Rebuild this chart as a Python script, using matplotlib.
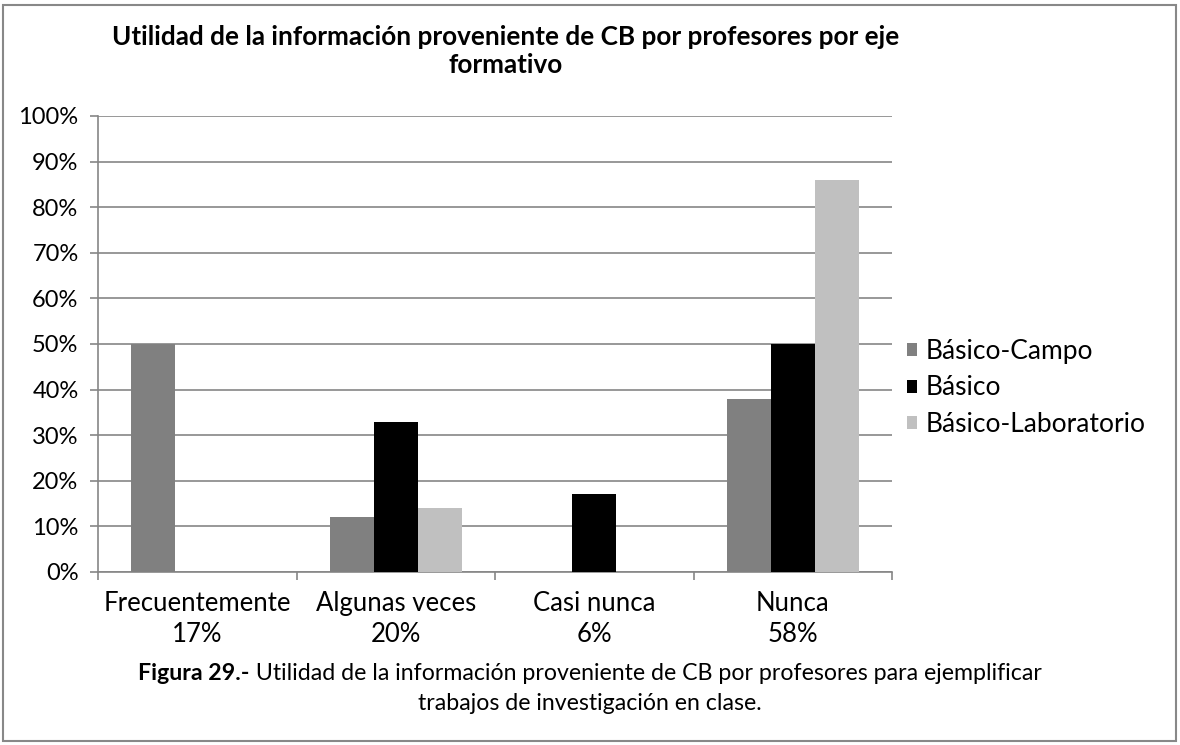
import matplotlib.pyplot as plt
from matplotlib.patches import Rectangle
import numpy as np

plt.rcParams['font.family'] = ['Lato', 'DejaVu Sans']

categories = ['Frecuentemente', 'Algunas veces', 'Casi nunca', 'Nunca']
cat_pct = ['17%', '20%', '6%', '58%']
series = ['Básico-Campo', 'Básico', 'Básico-Laboratorio']
basico_campo = [50, 12, 0, 38]
basico = [0, 33, 17, 50]
basico_lab = [0, 14, 0, 86]
colors = ['#808080', '#000000', '#c0c0c0']

title = 'Utilidad de la información proveniente de CB por profesores por eje\nformativo'
caption_bold = 'Figura 29.-'
caption_rest = ' Utilidad de la información proveniente de CB por profesores para ejemplificar'
caption_line2 = 'trabajos de investigación en clase.'

W, H = 1180, 745
fig = plt.figure(figsize=(W / 100, H / 100), dpi=100)

# outer frame
fig.patches.append(Rectangle((3 / W, 4 / H), 1 - 7 / W, 1 - 9 / H, transform=fig.transFigure,
                             fill=False, edgecolor='#888888', linewidth=1.5))

ax = fig.add_axes([98 / W, 1 - 572 / H, (892 - 98) / W, (572 - 116) / H])

x = np.arange(len(categories))
bw = 0.222
for i, (vals, name) in enumerate(zip([basico_campo, basico, basico_lab], series)):
    ax.bar(x + (i - 1) * bw, vals, bw, color=colors[i], label=name, zorder=3)

ax.set_xlim(-0.5, len(categories) - 0.5)
ax.set_ylim(0, 100)
ax.set_yticks(np.arange(0, 101, 10))
ax.set_yticklabels([f'{v}%' for v in range(0, 101, 10)], fontsize=17)
ax.yaxis.grid(True, color='#868686', linewidth=1.2, zorder=0)
ax.set_xticks(x)
ax.set_xticklabels([f'{c}\n{p}' for c, p in zip(categories, cat_pct)], fontsize=18.5,
                   linespacing=1.3)
ax.set_xticks(np.arange(-0.5, len(categories), 1), minor=True)
ax.tick_params(axis='x', which='major', length=0, pad=14)
ax.tick_params(axis='x', which='minor', length=6, color='#868686', width=1.2)
ax.tick_params(axis='y', length=6, color='#868686', width=1.2, pad=8, direction='out')
for s in ['top', 'right']:
    ax.spines[s].set_visible(False)
for s in ['left', 'bottom']:
    ax.spines[s].set_color('#868686')
    ax.spines[s].set_linewidth(1.2)

leg = ax.legend(loc='center left', bbox_to_anchor=(883 / W, 1 - 388 / H),
                bbox_transform=fig.transFigure, frameon=False, fontsize=19,
                handlelength=0.38, handleheight=0.38, handletextpad=0.35, labelspacing=0.45)

fig.text(506 / W, 1 - 51 / H, title, ha='center', va='center', fontsize=18.8,
         fontweight='bold', linespacing=1.18)

# caption with bold prefix
fig.canvas.draw()
r = fig.canvas.get_renderer()
tb = fig.text(0, 1 - 674 / H, caption_bold, fontsize=16.7, fontweight='bold', va='center')
tr = fig.text(0, 1 - 674 / H, caption_rest, fontsize=16.7, va='center')
wb = tb.get_window_extent(r).width
wr = tr.get_window_extent(r).width
x0 = 590 - (wb + wr) / 2
tb.set_x(x0 / W)
tr.set_x((x0 + wb) / W)
fig.text(590 / W, 1 - 703 / H, caption_line2, fontsize=16.7, ha='center', va='center')

fig.savefig('out.png', dpi=100)
